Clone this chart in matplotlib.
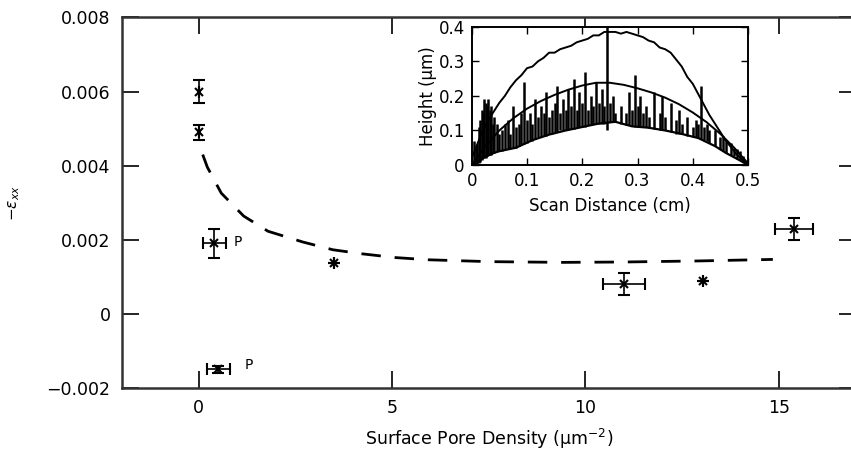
import numpy as np
import matplotlib
matplotlib.use("Agg")
import matplotlib.pyplot as plt

# main panel: strain vs surface pore density
pore_x = [0.0, 0.0, 0.4, 0.5, 3.5, 11.0, 13.05, 15.4]
strain = [0.0060, 0.0049, 0.0019, -0.0015, 0.00137, 0.0008, 0.00088, 0.0023]
pore_xerr = [0.0, 0.0, 0.3, 0.3, 0.0, 0.55, 0.0, 0.5]
strain_err = [0.0003, 0.0002, 0.0004, 0.0001, 0.0, 0.0003, 0.0, 0.0003]

# dashed trend line
trend_x = [0.1, 0.22, 0.58, 1.16, 1.79, 2.69, 3.47, 4.23, 5.08, 5.94, 7.5, 9.4, 11.0, 13.0, 14.85]
trend_y = [0.0043, 0.00396, 0.00326, 0.00264, 0.00223, 0.00194, 0.00173, 0.00162,
           0.00152, 0.00146, 0.00141, 0.00139, 0.0014, 0.00143, 0.00147]

p_labels = [(1.0, 0.00195), (1.3, -0.00139)]

# inset: height profiles
scan_x = np.round(np.arange(0, 0.501, 0.01), 2)
upper_h = [0.02, 0.06, 0.10, 0.13, 0.155, 0.18, 0.20, 0.225, 0.245, 0.26, 0.28,
           0.285, 0.30, 0.31, 0.325, 0.325, 0.335, 0.34, 0.345, 0.355, 0.36, 0.365,
           0.375, 0.375, 0.385, 0.385, 0.385, 0.38, 0.385, 0.38, 0.375, 0.37, 0.36,
           0.355, 0.34, 0.335, 0.325, 0.305, 0.285, 0.255, 0.235, 0.205, 0.175, 0.145,
           0.12, 0.095, 0.07, 0.05, 0.03, 0.015, 0.005]

fit_x = [0, 0.025, 0.05, 0.075, 0.1, 0.125, 0.15, 0.175, 0.2, 0.225, 0.25, 0.275,
         0.3, 0.325, 0.35, 0.375, 0.4, 0.425, 0.45, 0.475, 0.5]
fit_h = [0.0, 0.055, 0.10, 0.135, 0.163, 0.185, 0.203, 0.218, 0.23, 0.238, 0.238,
         0.232, 0.222, 0.21, 0.195, 0.176, 0.152, 0.124, 0.09, 0.05, 0.005]

base_x = [0, 0.02, 0.04, 0.05, 0.08, 0.11, 0.14, 0.17, 0.2, 0.23, 0.26, 0.29, 0.32,
          0.35, 0.38, 0.41, 0.44, 0.46, 0.48, 0.5]
base_h = [0.0, 0.02, 0.035, 0.04, 0.05, 0.072, 0.088, 0.10, 0.11, 0.12, 0.125, 0.112,
          0.108, 0.10, 0.09, 0.078, 0.055, 0.035, 0.018, 0.0]

spike_x = [0.005, 0.008, 0.01, 0.013, 0.015, 0.018, 0.02, 0.023, 0.025, 0.028, 0.03,
           0.033, 0.035, 0.038, 0.04, 0.045, 0.05, 0.055, 0.06, 0.065, 0.07, 0.075,
           0.08, 0.085, 0.09, 0.095, 0.1, 0.105, 0.11, 0.115, 0.12, 0.125, 0.13,
           0.135, 0.14, 0.145, 0.15, 0.155, 0.16, 0.165, 0.17, 0.175, 0.18, 0.185,
           0.19, 0.195, 0.2, 0.205, 0.21, 0.215, 0.22, 0.225, 0.23, 0.235, 0.24,
           0.245, 0.25, 0.255, 0.26, 0.27, 0.28, 0.285, 0.29, 0.295, 0.3, 0.305,
           0.31, 0.315, 0.32, 0.33, 0.34, 0.345, 0.35, 0.36, 0.37, 0.375, 0.38,
           0.39, 0.4, 0.405, 0.41, 0.415, 0.42, 0.425, 0.43, 0.44, 0.45, 0.455,
           0.46, 0.47, 0.475, 0.48, 0.485, 0.49]
spike_lo = [0.0, 0.0, 0.0, 0.005, 0.01, 0.015, 0.02, 0.02, 0.02, 0.025, 0.03, 0.03,
            0.03, 0.035, 0.035, 0.04, 0.04, 0.04, 0.045, 0.045, 0.05, 0.05, 0.05,
            0.055, 0.06, 0.06, 0.065, 0.07, 0.07, 0.075, 0.08, 0.08, 0.085, 0.085,
            0.09, 0.09, 0.095, 0.095, 0.1, 0.1, 0.1, 0.1, 0.105, 0.105, 0.11, 0.11,
            0.11, 0.11, 0.115, 0.115, 0.12, 0.12, 0.12, 0.12, 0.12, 0.1, 0.125,
            0.125, 0.125, 0.12, 0.115, 0.115, 0.112, 0.11, 0.11, 0.11, 0.11, 0.11,
            0.108, 0.105, 0.1, 0.1, 0.1, 0.095, 0.09, 0.09, 0.09, 0.085, 0.082,
            0.08, 0.078, 0.075, 0.072, 0.07, 0.065, 0.055, 0.045, 0.04, 0.035, 0.03,
            0.025, 0.018, 0.015, 0.01]
spike_hi = [0.07, 0.05, 0.06, 0.11, 0.13, 0.16, 0.15, 0.19, 0.18, 0.17, 0.19, 0.16,
            0.17, 0.12, 0.14, 0.12, 0.09, 0.10, 0.12, 0.13, 0.09, 0.17, 0.11, 0.12,
            0.15, 0.24, 0.13, 0.15, 0.12, 0.19, 0.14, 0.17, 0.15, 0.21, 0.14, 0.16,
            0.18, 0.23, 0.15, 0.19, 0.16, 0.22, 0.17, 0.25, 0.16, 0.21, 0.18, 0.27,
            0.16, 0.20, 0.17, 0.24, 0.18, 0.22, 0.17, 0.40, 0.18, 0.20, 0.15, 0.17,
            0.15, 0.21, 0.16, 0.26, 0.17, 0.20, 0.15, 0.17, 0.14, 0.21, 0.15, 0.20,
            0.14, 0.18, 0.13, 0.16, 0.12, 0.14, 0.11, 0.13, 0.12, 0.23, 0.11, 0.12,
            0.10, 0.10, 0.08, 0.085, 0.07, 0.065, 0.05, 0.045, 0.04, 0.025]

plt.rcParams['font.family'] = 'DejaVu Sans'
fig = plt.figure(figsize=(8.51, 4.61), dpi=100)
ax = fig.add_axes([0.1428, 0.1584, 0.863, 0.8037])

ax.errorbar(pore_x, strain, xerr=pore_xerr, yerr=strain_err, fmt='x', color='k',
            ms=6, mew=1.5, elinewidth=1.2, capsize=4, capthick=1.2)
line, = ax.plot(trend_x, trend_y, color='k', lw=2)
line.set_dashes((7, 5))
for px, py in p_labels:
    ax.text(px, py, 'P', fontsize=10, ha='center', va='center')

ax.set_xlim(-2, 17)
ax.set_ylim(-0.002, 0.008)
ax.set_xticks([0, 5, 10, 15])
ax.set_yticks([-0.002, 0, 0.002, 0.004, 0.006, 0.008])
ax.set_yticklabels(['\u22120.002', '0', '0.002', '0.004', '0.006', '0.008'])
ax.tick_params(direction='in', length=12, width=1.2, top=True, right=True,
               labelsize=12.5, pad=8)
for s in ax.spines.values():
    s.set_linewidth(1.8)
    s.set_color('#333333')
ax.set_xlabel('Surface Pore Density (\u03bcm$^{-2}$)', fontsize=12.5, labelpad=7)
ax.set_ylabel(r'$-\epsilon_{xx}$', fontsize=11)
ax.yaxis.set_label_coords(-0.135, 0.5)

# inset
ins = fig.add_axes([0.5543, 0.642, 0.3247, 0.300])
ins.plot(scan_x, upper_h, color='k', lw=1.4)
ins.plot(fit_x, fit_h, color='k', lw=1.4)
ins.plot(base_x, base_h, color='k', lw=1.6)
ins.vlines(spike_x, spike_lo, spike_hi, color='k', lw=1.8)
ins.set_xlim(0, 0.5)
ins.set_ylim(0, 0.4)
ins.set_xticks([0, 0.1, 0.2, 0.3, 0.4, 0.5])
ins.set_xticklabels(['0', '0.1', '0.2', '0.3', '0.4', '0.5'])
ins.set_yticks([0, 0.1, 0.2, 0.3, 0.4])
ins.set_yticklabels(['0', '0.1', '0.2', '0.3', '0.4'])
ins.tick_params(direction='in', length=5, width=1, top=True, right=True,
                labelsize=12, pad=5)
for s in ins.spines.values():
    s.set_linewidth(1.4)
ins.set_xlabel('Scan Distance (cm)', fontsize=12, labelpad=5)
ins.set_ylabel('Height (\u03bcm)', fontsize=12, labelpad=1)

fig.savefig('out.png', dpi=100)
